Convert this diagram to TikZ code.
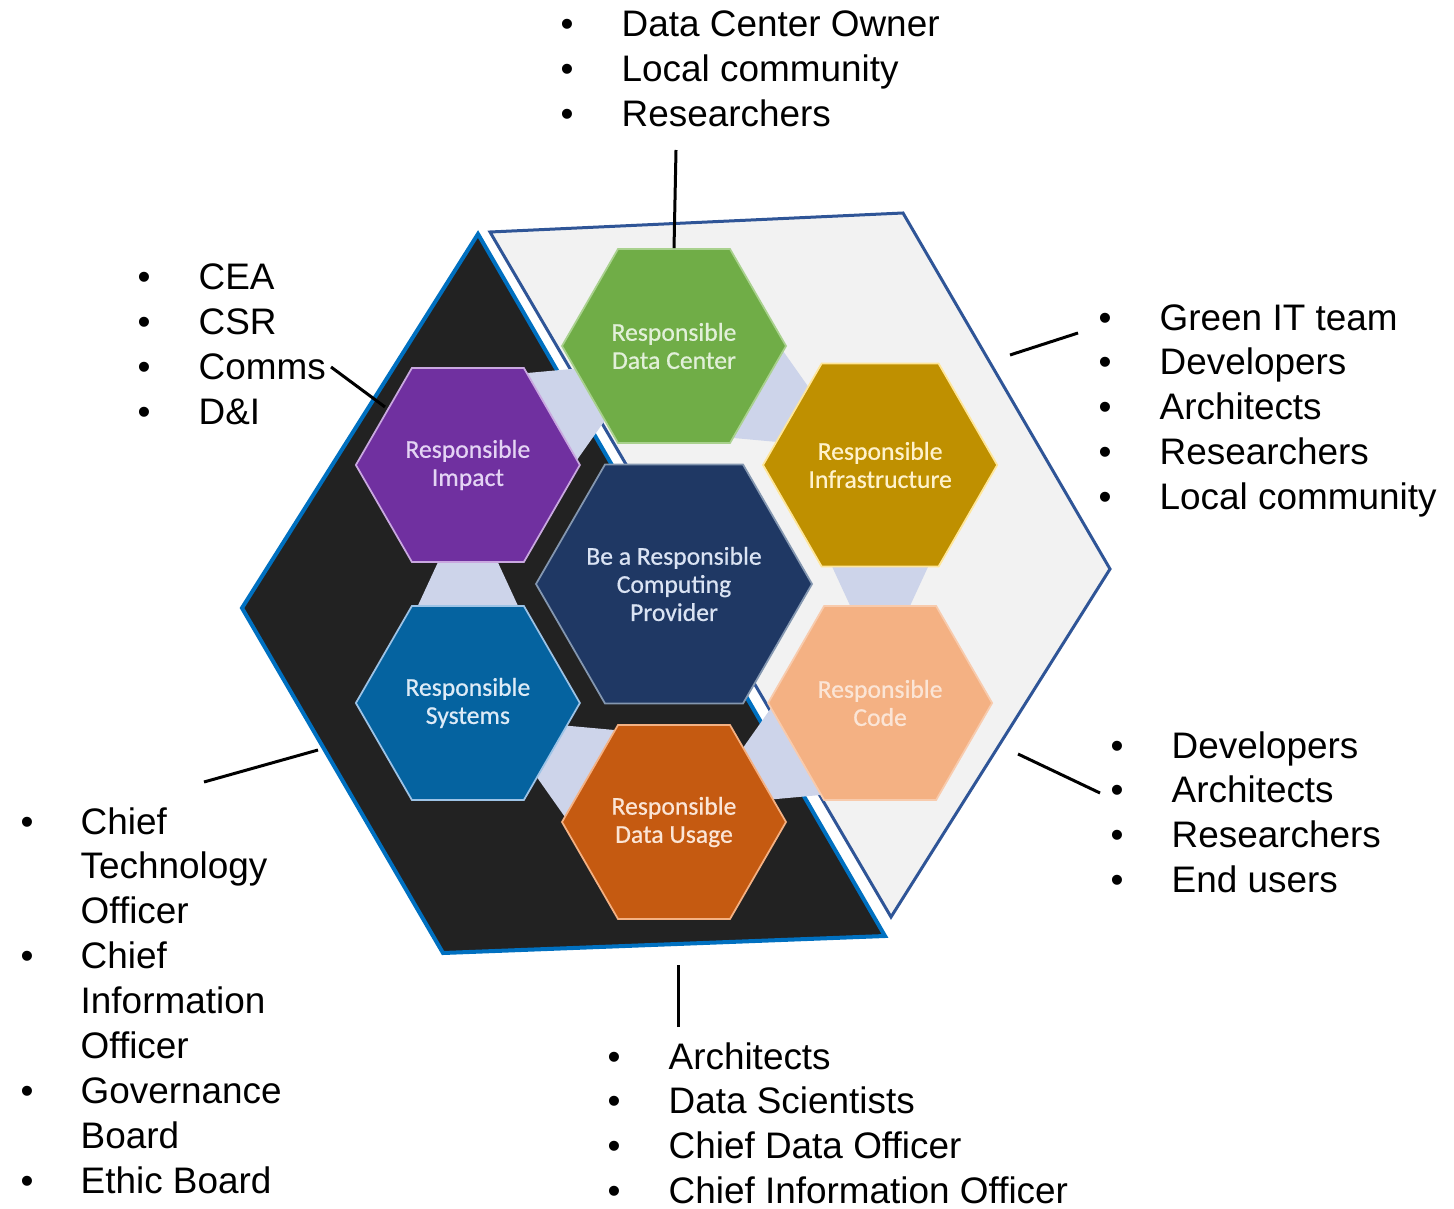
\documentclass[tikz,border=0pt]{standalone}
\usepackage{fontspec}
\usetikzlibrary{shapes.geometric}
\usetikzlibrary{calc}

\newfontfamily\listfont{Liberation Sans}
\newfontfamily\hexfont[FakeBold=0.6]{Carlito}

\definecolor{darkfill}{HTML}{222222}
\definecolor{darkline}{HTML}{0070C0}
\definecolor{lightfill}{HTML}{F2F2F2}
\definecolor{lightline}{HTML}{2F5597}
\definecolor{linkfill}{HTML}{CDD4EA}
\definecolor{corefill}{HTML}{1F3864}
\definecolor{coreline}{HTML}{8497B0}
\definecolor{coretext}{HTML}{DAE3F3}
\definecolor{dcfill}{HTML}{70AD47}
\definecolor{dcline}{HTML}{A9D18E}
\definecolor{dctext}{HTML}{E2F0D9}
\definecolor{infrafill}{HTML}{BF9000}
\definecolor{infraline}{HTML}{FFE699}
\definecolor{infratext}{HTML}{FFF2CC}
\definecolor{codefill}{HTML}{F4B183}
\definecolor{codeline}{HTML}{F8CBAD}
\definecolor{codetext}{HTML}{FBE5D6}
\definecolor{usagefill}{HTML}{C55A11}
\definecolor{usageline}{HTML}{F4B183}
\definecolor{usagetext}{HTML}{FBE5D6}
\definecolor{sysfill}{HTML}{0563A0}
\definecolor{sysline}{HTML}{9DC3E6}
\definecolor{systext}{HTML}{DEEBF7}
\definecolor{impactfill}{HTML}{7030A0}
\definecolor{impactline}{HTML}{C9A8E0}
\definecolor{impacttext}{HTML}{E4D4F4}

% trapezoid between two ring hexagons, wide end at the first one
\newcommand{\hexlink}[2]{%
  \fill[linkfill] ($(#1)!0.40!(#2)!5.1mm!90:(#2)$) -- ($(#1)!0.40!(#2)!5.1mm!-90:(#2)$)
    -- ($(#1)!0.60!(#2)!2.9mm!-90:(#2)$) -- ($(#1)!0.60!(#2)!2.9mm!90:(#2)$) -- cycle;}

\tikzset{
  hexa/.style={regular polygon, regular polygon sides=6, minimum size=22.4mm, inner sep=0pt,
    line width=0.5pt, align=center, font=\hexfont\fontsize{7.3pt}{8pt}\selectfont},
  hexlabel/.style={inner sep=0pt, align=center, font=\hexfont\fontsize{7.3pt}{8pt}\selectfont},
  blist/.style={anchor=base west, inner sep=0pt, font=\listfont\fontsize{10.5pt}{12.8pt}\selectfont},
  callout/.style={line width=0.3mm, black},
}

\begin{document}
\begin{tikzpicture}[x=0.1mm,y=0.1mm]
  \useasboundingbox (0,0) rectangle (1454,-1209);

  % the two halves
  \draw[darkline, fill=darkfill, line width=0.4mm] (478,-234) -- (242,-608) -- (443,-953) -- (885,-936) -- cycle;
  \draw[lightline, fill=lightfill, line width=0.3mm] (490,-232) -- (903,-213) -- (1110,-569) -- (891,-917) -- cycle;

  % hexagons
  \coordinate (mid) at (674,-584);
  \coordinate (pdc) at ($(mid)+(90:238)$);
  \coordinate (pinfra) at ($(mid)+(30:238)$);
  \coordinate (pcode) at ($(mid)+(-30:238)$);
  \coordinate (pusage) at ($(mid)+(-90:238)$);
  \coordinate (psys) at ($(mid)+(-150:238)$);
  \coordinate (pimpact) at ($(mid)+(150:238)$);

  \hexlink{pdc}{pinfra}
  \hexlink{pinfra}{pcode}
  \hexlink{pcode}{pusage}
  \hexlink{pusage}{psys}
  \hexlink{psys}{pimpact}
  \hexlink{pimpact}{pdc}

  \node[hexa, minimum size=27.6mm, fill=corefill, draw=coreline] (core) at (mid) {};
  \node[hexlabel, text=coretext] (coretxt) at (core) {Be a Responsible\\Computing\\Provider};
  \node[hexa, fill=dcfill, draw=dcline, text=dctext] (dc) at (pdc) {Responsible\\Data Center};
  \node[hexa, fill=infrafill, draw=infraline, text=infratext] (infra) at (pinfra) {Responsible\\Infrastructure};
  \node[hexa, fill=codefill, draw=codeline, text=codetext] (code) at (pcode) {Responsible\\Code};
  \node[hexa, fill=usagefill, draw=usageline, text=usagetext] (usage) at (pusage) {Responsible\\Data Usage};
  \node[hexa, fill=sysfill, draw=sysline, text=systext] (sys) at (psys) {Responsible\\Systems};
  \node[hexa, fill=impactfill, draw=impactline, text=impacttext] (impact) at (pimpact) {Responsible\\Impact};

  % stakeholder lists
  \node[blist] (ltop) at (560,-37) {\begin{tabular}[t]{@{}p{6.1mm}@{}l@{}}
    \textbullet & Data Center Owner\\
    \textbullet & Local community\\
    \textbullet & Researchers
  \end{tabular}};
  \node[blist] (lcea) at (137,-290) {\begin{tabular}[t]{@{}p{6.1mm}@{}l@{}}
    \textbullet & CEA\\
    \textbullet & CSR\\
    \textbullet & Comms\\
    \textbullet & D\&I
  \end{tabular}};
  \node[blist] (lgreen) at (1098,-330) {\begin{tabular}[t]{@{}p{6.1mm}@{}l@{}}
    \textbullet & Green IT team\\
    \textbullet & Developers\\
    \textbullet & Architects\\
    \textbullet & Researchers\\
    \textbullet & Local community
  \end{tabular}};
  \node[blist] (ldev) at (1110,-758) {\begin{tabular}[t]{@{}p{6.1mm}@{}l@{}}
    \textbullet & Developers\\
    \textbullet & Architects\\
    \textbullet & Researchers\\
    \textbullet & End users
  \end{tabular}};
  \node[blist] (lchief) at (20,-834) {\begin{tabular}[t]{@{}p{6mm}@{}l@{}}
    \textbullet & Chief\\
     & Technology\\
     & Officer\\
    \textbullet & Chief\\
     & Information\\
     & Officer\\
    \textbullet & Governance\\
     & Board\\
    \textbullet & Ethic Board
  \end{tabular}};
  \node[blist] (larch) at (607,-1069) {\begin{tabular}[t]{@{}p{6.1mm}@{}l@{}}
    \textbullet & Architects\\
    \textbullet & Data Scientists\\
    \textbullet & Chief Data Officer\\
    \textbullet & Chief Information Officer
  \end{tabular}};

  % callout lines
  \coordinate (ctop) at (676,-150);
  \coordinate (ccomms) at (331,-367);
  \coordinate (ccommsend) at (385,-407);
  \coordinate (cgreen) at (1078,-333);
  \coordinate (cgreenend) at (1010,-355);
  \coordinate (cdev) at (1100,-793);
  \coordinate (cdevend) at (1018,-754);
  \coordinate (cchief) at (204,-782);
  \coordinate (cchiefend) at (318,-750);
  \coordinate (carch) at (678,-1027);
  \coordinate (carchend) at (678,-965);

  \draw[callout] (ctop) -- (dc.north);
  \draw[callout] (ccomms) -- (ccommsend);
  \draw[callout] (cgreen) -- (cgreenend);
  \draw[callout] (cdev) -- (cdevend);
  \draw[callout] (cchief) -- (cchiefend);
  \draw[callout] (carch) -- (carchend);
\end{tikzpicture}
\end{document}
